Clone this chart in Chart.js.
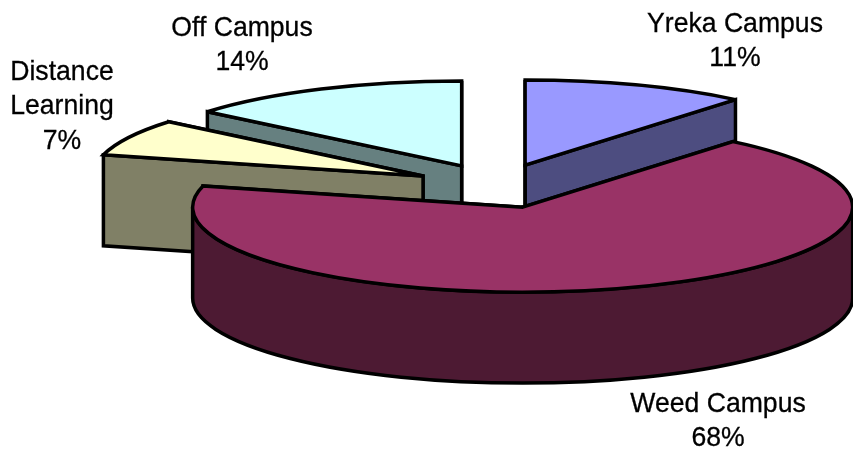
<!DOCTYPE html>
<html>
<head>
<meta charset="utf-8">
<title>Students by campus</title>
<script src="https://cdn.jsdelivr.net/npm/chart.js@4"></script>
<style>
  html, body { margin: 0; padding: 0; background: #fff; }
  canvas { display: block; }
</style>
</head>
<body>
<canvas id="pie" width="853" height="449"></canvas>
<script>
// clockwise from 12 o'clock
const categories = ["Yreka Campus", "Weed Campus", "Distance Learning", "Off Campus"];
const shares = [11, 68, 7, 14];

const topColors = ["#9999FF", "#993366", "#FFFFCC", "#CCFFFF"];
const sideColors = ["#4D4D80", "#4D1A33", "#808066", "#668080"];

// back to front
const paintOrder = [3, 0, 2, 1];

// label centres, one row per line of text
const labelLines = [["Yreka Campus"], ["Weed Campus"], ["Distance", "Learning"], ["Off Campus"]];
const labelAnchors = [[735, 24], [718, 404], [62, 72], [242, 28]];

const RADIUS = 330;
const TILT = 85 / 330;
const EXPLODE_TILT = 0.2676;
const DEPTH = 91;
const EXPLODE = 83;
const LINE_HEIGHT = 34.5;

function point(apex, angle, down) {
  return [apex[0] + Math.cos(angle) * RADIUS, apex[1] + Math.sin(angle) * RADIUS * TILT + (down || 0)];
}

function shape(ctx, fill, build) {
  ctx.beginPath();
  build();
  ctx.closePath();
  ctx.fillStyle = fill;
  ctx.fill();
  ctx.stroke();
}

function wall(ctx, apex, angle, fill) {
  const rim = point(apex, angle);
  shape(ctx, fill, function() {
    ctx.moveTo(apex[0], apex[1]);
    ctx.lineTo(rim[0], rim[1]);
    ctx.lineTo(rim[0], rim[1] + DEPTH);
    ctx.lineTo(apex[0], apex[1] + DEPTH);
  });
}

function paintSlice(ctx, arc, i) {
  const mid = (arc.startAngle + arc.endAngle) / 2;
  const off = arc.options.offset;
  const apex = [arc.x + Math.cos(mid) * off, arc.y + Math.sin(mid) * off * EXPLODE_TILT];
  const r = arc.outerRadius;

  wall(ctx, apex, arc.endAngle, sideColors[i]);
  wall(ctx, apex, arc.startAngle, sideColors[i]);

  // only the part of the rim between 3 and 9 o'clock faces us
  const from = Math.max(arc.startAngle, 0);
  const to = Math.min(arc.endAngle, Math.PI);
  if (to > from) {
    shape(ctx, sideColors[i], function() {
      ctx.ellipse(apex[0], apex[1], r, r * TILT, 0, from, to);
      ctx.ellipse(apex[0], apex[1] + DEPTH, r, r * TILT, 0, to, from, true);
    });
  }

  shape(ctx, topColors[i], function() {
    ctx.moveTo(apex[0], apex[1]);
    ctx.ellipse(apex[0], apex[1], r, r * TILT, 0, arc.startAngle, arc.endAngle);
  });
}

const pie3d = {
  id: "pie3d",
  beforeDatasetDraw: function(chart, args) {
    const ctx = chart.ctx;
    const arcs = chart.getDatasetMeta(args.index).data;
    ctx.save();
    ctx.strokeStyle = "#000";
    ctx.lineWidth = 3.5;
    ctx.lineJoin = "miter";
    ctx.miterLimit = 3;
    paintOrder.forEach(function(i) {
      paintSlice(ctx, arcs[i], i);
    });
    ctx.restore();
    return false;
  },
  afterDraw: function(chart) {
    const ctx = chart.ctx;
    categories.forEach(function(name, i) {
      const rows = labelLines[i].concat([shares[i] + "%"]);
      rows.forEach(function(row, n) {
        // the reference text is a little taller than it is wide
        ctx.save();
        ctx.translate(labelAnchors[i][0], labelAnchors[i][1] + n * LINE_HEIGHT);
        ctx.scale(0.95, 1);
        ctx.fillStyle = "#000";
        ctx.strokeStyle = "#000";
        ctx.lineWidth = 0.3;
        ctx.font = "28px 'Liberation Sans', Arial, sans-serif";
        ctx.textAlign = "center";
        ctx.textBaseline = "middle";
        ctx.fillText(row, 0, 0);
        ctx.strokeText(row, 0, 0);
        ctx.restore();
      });
    });
  }
};

new Chart(document.getElementById("pie"), {
  type: "pie",
  data: {
    labels: categories,
    datasets: [{
      data: shares,
      backgroundColor: topColors,
      radius: RADIUS,
      offset: EXPLODE
    }]
  },
  options: {
    responsive: false,
    animation: false,
    // pushes the pie centre to where the reference has it
    layout: { padding: { left: 141, right: 0, top: 0, bottom: 77 } },
    plugins: { legend: { display: false }, tooltip: { enabled: false } }
  },
  plugins: [pie3d]
});
</script>
</body>
</html>
